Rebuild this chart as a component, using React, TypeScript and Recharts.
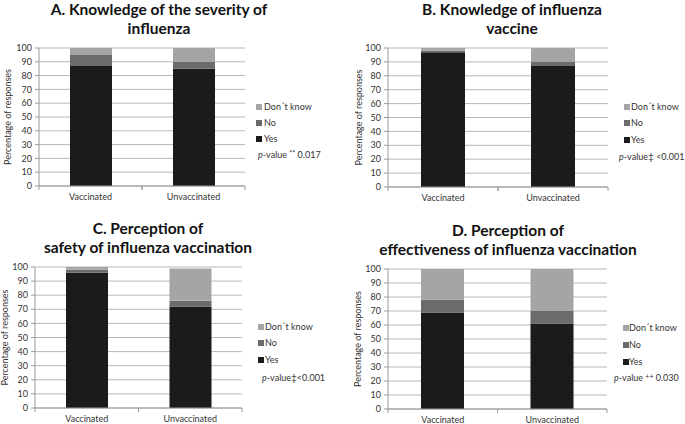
import React from 'react';
import { BarChart, Bar, XAxis, YAxis, CartesianGrid } from 'recharts';

const categories = ['Vaccinated', 'Unvaccinated'];

const yesA = [87, 85];
const noA = [8, 5];
const dkA = [5, 10];

const yesB = [97, 87];
const noB = [1, 3];
const dkB = [2, 10];

const yesC = [96, 72];
const noC = [2, 4];
const dkC = [2, 23];

const yesD = [69, 61];
const noD = [9, 9];
const dkD = [22, 30];

const yTicks = [0, 10, 20, 30, 40, 50, 60, 70, 80, 90, 100];
const legendNames = ['Don´t know', 'No', 'Yes'];
const yLabel = 'Percentage of responses';

const titleA = ['A. Knowledge of the severity of', 'influenza'];
const titleB = ['B. Knowledge of influenza', 'vaccine'];
const titleC = ['C. Perception of', 'safety of influenza vaccination'];
const titleD = ['D. Perception of', 'effectiveness of influenza vaccination'];

const pPreA = ' ';
const pPreB = '';
const pPreC = '';
const pPreD = ' ';
const pMarkA = '**';
const pMarkB = '‡';
const pMarkC = '‡';
const pMarkD = '++';
const pSupA = true;
const pSupB = false;
const pSupC = false;
const pSupD = true;
const pValA = ' 0.017';
const pValB = ' <0.001';
const pValC = '<0.001';
const pValD = ' 0.030';

const COLORS = { yes: '#1b1b1b', no: '#6b6b6b', dk: '#a5a5a5' };
const legendColors = [COLORS.dk, COLORS.no, COLORS.yes];
const FONT = 'Lato, "Open Sans", sans-serif';

const build = (yes: number[], no: number[], dk: number[]) =>
  categories.map((c, i) => ({ name: c, yes: yes[i], no: no[i], dk: dk[i] }));

const XTick = (props: any) => {
  const { x, y, payload, half } = props;
  return (
    <g>
      <line x1={x - half} x2={x - half} y1={y} y2={y + 4} stroke="#9a9a9a" />
      <line x1={x + half} x2={x + half} y1={y} y2={y + 4} stroke="#9a9a9a" />
      <text x={x} y={y + 8} dy="0.71em" textAnchor="middle" fontSize={9} fontFamily={FONT} fill="#333">
        {payload.value}
      </text>
    </g>
  );
};

const YLabel = (props: any) => {
  const { viewBox, lx } = props;
  const cx = viewBox.x + lx;
  const cy = viewBox.y + viewBox.height / 2;
  return (
    <text
      x={cx}
      y={cy}
      transform={`rotate(-90, ${cx}, ${cy})`}
      textAnchor="middle"
      dominantBaseline="central"
      fontSize={9}
      fontFamily={FONT}
      fill="#333"
    >
      {yLabel}
    </text>
  );
};

type PanelProps = {
  data: any[];
  left: number;
  top: number;
  width: number;
  height: number;
  yAxisWidth: number;
  marginTop: number;
  marginRight: number;
  xAxisHeight: number;
  barSize: number;
  labelX: number;
};

const Panel = (p: PanelProps) => {
  const plotW = p.width - p.yAxisWidth - p.marginRight;
  const half = plotW / categories.length / 2;
  return (
    <div style={{ position: 'absolute', left: p.left, top: p.top }}>
      <BarChart
        width={p.width}
        height={p.height}
        data={p.data}
        margin={{ top: p.marginTop, right: p.marginRight, bottom: 0, left: 0 }}
        barSize={p.barSize}
      >
        <CartesianGrid horizontal vertical={false} stroke="#b8b8b8" />
        <XAxis
          dataKey="name"
          height={p.xAxisHeight}
          axisLine={{ stroke: '#9a9a9a' }}
          tickLine={false}
          tickSize={0}
          tickMargin={0}
          interval={0}
          tick={<XTick half={half} />}
        />
        <YAxis
          type="number"
          domain={[0, 100]}
          ticks={yTicks}
          interval={0}
          width={p.yAxisWidth}
          axisLine={{ stroke: '#9a9a9a' }}
          tickLine={{ stroke: '#9a9a9a' }}
          tickSize={4}
          tickMargin={3}
          tick={{ fontSize: 9, fontFamily: FONT, fill: '#333' }}
          label={<YLabel lx={p.labelX} />}
        />
        <Bar dataKey="yes" stackId="s" fill={COLORS.yes} isAnimationActive={false} />
        <Bar dataKey="no" stackId="s" fill={COLORS.no} isAnimationActive={false} />
        <Bar dataKey="dk" stackId="s" fill={COLORS.dk} isAnimationActive={false} />
      </BarChart>
    </div>
  );
};

const Title = ({ lines, cx, top }: { lines: string[]; cx: number; top: number }) => (
  <div
    style={{
      position: 'absolute',
      left: cx - 200,
      top,
      width: 400,
      textAlign: 'center',
      fontFamily: FONT,
      fontWeight: 700,
      fontSize: 15.5,
      lineHeight: '19px',
      color: '#111',
      whiteSpace: 'nowrap',
    }}
  >
    {lines.map((l, i) => (
      <div key={i}>{l}</div>
    ))}
  </div>
);

const Legend = ({
  sx,
  tx,
  px,
  ys,
  pre,
  mark,
  sup,
  val,
}: {
  sx: number;
  tx: number;
  px: number;
  ys: number[];
  pre: string;
  mark: string;
  sup: boolean;
  val: string;
}) => (
  <div style={{ fontFamily: FONT, fontSize: 9, color: '#333' }}>
    {legendNames.map((n, i) => (
      <div key={n}>
        <div
          style={{
            position: 'absolute',
            left: sx,
            top: ys[i] - 3,
            width: 6,
            height: 6,
            background: legendColors[i],
          }}
        />
        <div style={{ position: 'absolute', left: tx, top: ys[i] - 6, lineHeight: '12px', whiteSpace: 'nowrap' }}>
          {n}
        </div>
      </div>
    ))}
    <div
      style={{ position: 'absolute', left: px, top: ys[3] - 6, lineHeight: '12px', whiteSpace: 'pre' }}
    >
      <i>p</i>-value{pre}
      <span style={sup ? { fontSize: 7, position: 'relative', top: -2 } : { fontSize: 10 }}>{mark}</span>
      {val}
    </div>
  </div>
);

export default function App() {
  return (
    <div
      style={{
        position: 'absolute',
        left: 0,
        top: 0,
        width: 685,
        height: 424,
        background: '#fff',
        overflow: 'hidden',
      }}
    >
      <Title lines={titleA} cx={159} top={0} />
      <Title lines={titleB} cx={512} top={0} />
      <Title lines={titleC} cx={148} top={219} />
      <Title lines={titleD} cx={508} top={221} />

      <Panel data={build(yesA, noA, dkA)} left={0} top={0} width={250} height={210}
        yAxisWidth={39} marginTop={48} marginRight={5} xAxisHeight={24} barSize={42} labelX={7} />
      <Panel data={build(yesB, noB, dkB)} left={340} top={0} width={275} height={210}
        yAxisWidth={48} marginTop={48} marginRight={7} xAxisHeight={23} barSize={44} labelX={18} />
      <Panel data={build(yesC, noC, dkC)} left={0} top={210} width={250} height={214}
        yAxisWidth={35} marginTop={57} marginRight={8} xAxisHeight={16} barSize={42} labelX={4} />
      <Panel data={build(yesD, noD, dkD)} left={340} top={210} width={275} height={214}
        yAxisWidth={48} marginTop={59} marginRight={8} xAxisHeight={15} barSize={43} labelX={17} />

      <Legend sx={256} tx={264} px={258} ys={[107, 123, 139, 155]} pre={pPreA} mark={pMarkA} sup={pSupA} val={pValA} />
      <Legend sx={624} tx={631} px={619} ys={[107, 123, 140, 156]} pre={pPreB} mark={pMarkB} sup={pSupB} val={pValB} />
      <Legend sx={258} tx={265} px={262} ys={[327, 343, 360, 377]} pre={pPreC} mark={pMarkC} sup={pSupC} val={pValC} />
      <Legend sx={623} tx={629} px={614} ys={[328, 345, 362, 378]} pre={pPreD} mark={pMarkD} sup={pSupD} val={pValD} />
    </div>
  );
}
